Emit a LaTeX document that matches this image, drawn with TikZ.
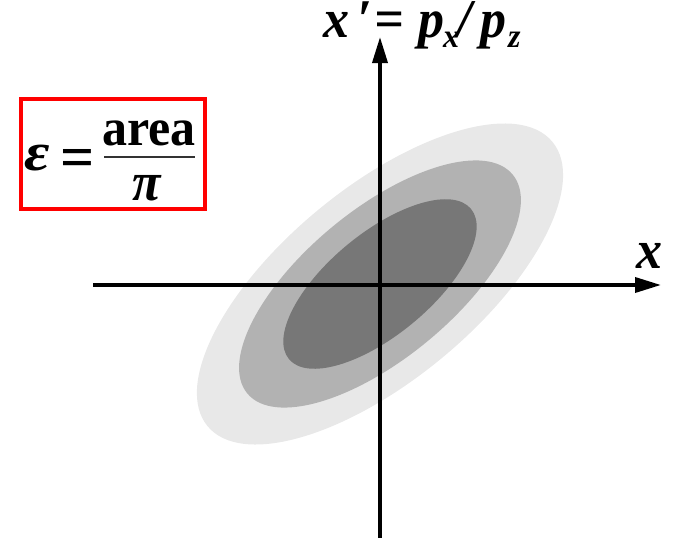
\documentclass[tikz,border=0pt]{standalone}
\usepackage{fontspec}
\setmainfont{Liberation Serif}
\usetikzlibrary{arrows.meta}
\definecolor{outerg}{HTML}{E8E8E8}
\definecolor{midg}{HTML}{B2B2B2}
\definecolor{innerg}{HTML}{777777}
\definecolor{boxred}{HTML}{FF0000}
\tikzset{
  axis/.style={line width=3.6pt, -{Triangle[length=26pt,width=15pt]}},
  bigtxt/.style={font=\fontsize{52}{60}\selectfont\bfseries\itshape, inner sep=0pt, anchor=base west, text height=0.6em, text depth=0.2em},
  subtxt/.style={font=\fontsize{32}{36}\selectfont\bfseries\itshape, inner sep=0pt, anchor=base west, text height=0.5em, text depth=0.05em},
  fractxt/.style={font=\fontsize{50}{56}\selectfont\bfseries, inner sep=0pt, anchor=base},
  redbox/.style={draw=boxred, line width=3.5pt}
}
\newcommand{\tall}[1]{\scalebox{1}[1.05]{#1}}
\begin{document}
\begin{tikzpicture}[x=1pt,y=-1pt]
\useasboundingbox (0,0) rectangle (675,538);
\coordinate (c) at (380,284);
% nested emittance ellipses
\fill[outerg, rotate around={39.5:(c)}] (c) ellipse [x radius=223.5pt, y radius=96.5pt];
\fill[midg, rotate around={39.5:(c)}] (c) ellipse [x radius=172pt, y radius=74.4pt];
\fill[innerg, rotate around={39.5:(c)}] (c) ellipse [x radius=118pt, y radius=51pt];
% axes
\coordinate (xl) at (93,285);
\coordinate (xr) at (661,285);
\coordinate (yb) at (380,538);
\coordinate (yt) at (380,37);
\draw[axis] (xl) -- (xr);
\draw[axis] (yb) -- (yt);
% axis labels
\node[bigtxt] (xlab) at (636,268) {\tall{x}};
\node[bigtxt] (ylx) at (323,37) {\tall{x}};
\node[bigtxt] (ylprime) at (357,37) {\tall{′}};
\node[bigtxt] (yleq) at (374,37) {\tall{=}};
\node[bigtxt] (ylp1) at (418,37) {\tall{p}};
\node[subtxt] (ylsx) at (443,47) {\tall{x}};
\node[bigtxt] (ylslash) at (457,37) {\tall{/}};
\node[bigtxt] (ylp2) at (480,37) {\tall{p}};
\node[subtxt] (ylsz) at (508,47) {\tall{z}};
% emittance box
\draw[redbox] (21,99) rectangle (205,209);
\node[bigtxt, font=\fontsize{54}{60}\selectfont\bfseries\itshape] (eps) at (24,170) {\scalebox{1.15}[1]{ε}};
\node[fractxt, font=\fontsize{60}{64}\selectfont\bfseries] (eq) at (78,177) {=};
\node[fractxt] (area) at (149,145) {\tall{area}};
\draw[line width=1.4pt, black!80] (104,157) -- (195,157);
\node[fractxt, font=\fontsize{52}{56}\selectfont\bfseries\itshape] (pi) at (147,200) {\tall{π}};
\end{tikzpicture}
\end{document}
